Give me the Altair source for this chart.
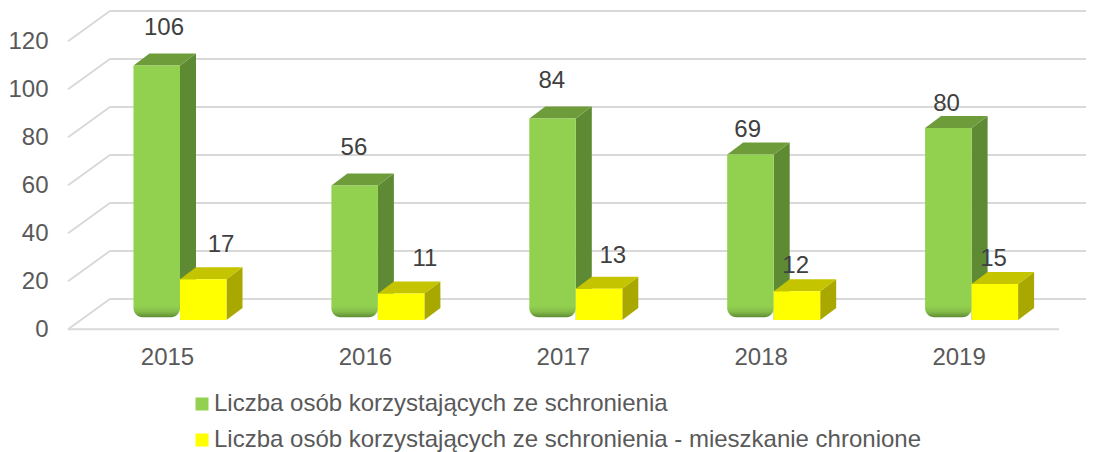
import altair as alt
import pandas as pd

years = [2015, 2016, 2017, 2018, 2019]
series_a = [106, 56, 84, 69, 80]
series_b = [17, 11, 13, 12, 15]
name_a = "Liczba osób korzystających ze schronienia"
name_b = "Liczba osób korzystających ze schronienia - mieszkanie chronione"
grid_values = [0, 20, 40, 60, 80, 100, 120]

# layout constants (pixels, converted through the scale ratios)
PX_PER_YEAR = 197.9
PX_PER_UNIT = 2.4
ux = lambda px: px / PX_PER_YEAR
uy = lambda px: px / PX_PER_UNIT
FONT = "Liberation Sans"
FS = 24
PLOT_L, PLOT_R, PLOT_T, PLOT_B = 56, 1086, 8, 345
ZERO_Y, YEAR0_X = 329.3, 168

# hand-moved data labels: offset from year centre / from front top of the bar
nudge_a = ([-4, -12, -12, -14, -13], [37.6, 37.6, 37.4, 24.4, 24])
nudge_b = ([53, 59, 49, 34, 34], [34, 35, 33, 25, 25])

x_dom = [2015 + ux(PLOT_L - YEAR0_X), 2015 + ux(PLOT_R - YEAR0_X)]
y_dom = [uy(ZERO_Y - PLOT_B), uy(ZERO_Y - PLOT_T)]
xs = alt.Scale(domain=x_dom, nice=False, zero=False)
ys = alt.Scale(domain=y_dom, nice=False, zero=False)
cs = alt.Scale(domain=[name_a, name_b], range=["#92D050", "#FFFF00"])

# depth of floor & bars
FLOOR_DX, FLOOR_DY = ux(42), uy(30.3)
BAR_DX, BAR_DY = ux(16), uy(12)
BASE = uy(ZERO_Y - 320)
BAR_W = ux(46.5)
LEFT_A, LEFT_B = ux(-34.5), ux(12)
LEFT_END = 2015 + ux(68 - YEAR0_X)
RIGHT_END = 2015 + ux(1059 - YEAR0_X)

grid_rows = []
for v in grid_values:
    grid_rows += [
        {"x": LEFT_END, "y": v, "g": v},
        {"x": LEFT_END + FLOOR_DX, "y": v + FLOOR_DY, "g": v},
        {"x": RIGHT_END + FLOOR_DX, "y": v + FLOOR_DY, "g": v},
    ]
grid_df = pd.DataFrame(grid_rows)
floor_df = pd.DataFrame({"x": [LEFT_END, RIGHT_END], "y": [0, 0]})


def faces(values, left):
    side, top, front = [], [], []
    for yr, v in zip(years, values):
        x0 = yr + left
        x1 = x0 + BAR_W
        t = BASE + v
        side += [
            {"x": x1, "y": BASE, "y2": t, "k": yr},
            {"x": x1 + BAR_DX, "y": BASE + BAR_DY, "y2": t + BAR_DY, "k": yr},
        ]
        top += [
            {"x": x0, "y": t, "y2": t, "k": yr},
            {"x": x0 + BAR_DX, "y": t, "y2": t + BAR_DY, "k": yr},
            {"x": x1, "y": t, "y2": t + BAR_DY, "k": yr},
            {"x": x1 + BAR_DX, "y": t + BAR_DY, "y2": t + BAR_DY, "k": yr},
        ]
        front.append({"x": x0, "x2": x1, "y": BASE, "y2": t})
    return pd.DataFrame(side), pd.DataFrame(top), pd.DataFrame(front)


side_a, top_a, front_a = faces(series_a, LEFT_A)
side_b, top_b, front_b = faces(series_b, LEFT_B)
front_a["s"] = name_a
front_b["s"] = name_b

# green bars: flat body above, rounded shaded foot below
FOOT_TOP = BASE + uy(21)
FOOT_BOT = BASE + uy(2.7)
front_a_body = front_a.copy()
front_a_body["y"] = FOOT_TOP
foot = front_a.copy()
foot["y"] = FOOT_BOT
foot["y2"] = FOOT_TOP


def labels(values, nudge):
    return pd.DataFrame({
        "x": [yr + ux(d) for yr, d in zip(years, nudge[0])],
        "y": [BASE + v + uy(d) for v, d in zip(values, nudge[1])],
        "t": [str(v) for v in values],
    })


X = alt.X("x:Q", scale=xs, title=None, axis=alt.Axis(
    values=years, format="d", grid=False, ticks=False, domain=False,
    labelFontSize=FS, labelFont=FONT, labelColor="#595959", labelPadding=0,
    labelOffset=-1, labelFlush=False, labelOverlap=False))
Y = alt.Y("y:Q", scale=ys, title=None, axis=alt.Axis(
    values=grid_values, format="d", grid=False, ticks=False, domain=False,
    labelFontSize=FS, labelFont=FONT, labelColor="#595959", labelPadding=8,
    labelFlush=False, labelOverlap=False))

grid = alt.Chart(grid_df).mark_line(color="#D9D9D9", strokeWidth=2, clip=True).encode(
    x=X, y=Y, detail="g:N", order="x:Q",
)
floor = alt.Chart(floor_df).mark_line(color="#D9D9D9", strokeWidth=2).encode(x=X, y=Y)


def area(df, colour):
    return alt.Chart(df).mark_area(color=colour, orient="vertical").encode(
        x=X, y=Y, y2=alt.Y2("y2:Q"), detail="k:N")


legend = alt.Legend(
    title=None, orient="none", legendX=134, legendY=384, symbolType="square",
    symbolSize=169, symbolStrokeWidth=0, labelFontSize=FS, labelFont=FONT,
    labelColor="#595959", labelLimit=900, labelOffset=0, rowPadding=12, padding=0,
)


def rects(df):
    return alt.Chart(df).mark_rect().encode(
        x=X, x2="x2:Q", y=Y, y2="y2:Q",
        color=alt.Color("s:N", scale=cs, legend=legend),
    )


foot_fill = alt.LinearGradient(
    gradient="linear", x1=0, x2=0, y1=0, y2=1,
    stops=[alt.GradientStop(color="#92D050", offset=0),
           alt.GradientStop(color="#92D050", offset=0.38),
           alt.GradientStop(color="#84BC49", offset=0.7),
           alt.GradientStop(color="#5E8A33", offset=1)],
)
foot_layer = alt.Chart(foot).mark_rect(
    color=foot_fill, cornerRadiusBottomLeft=9, cornerRadiusBottomRight=9
).encode(x=X, x2="x2:Q", y=Y, y2="y2:Q")


def text(df):
    return alt.Chart(df).mark_text(
        font=FONT, fontSize=FS, color="#404040", baseline="middle", align="center"
    ).encode(x=X, y=Y, text="t:N")


chart = alt.layer(
    grid, floor,
    area(side_a, "#5F8A34"), area(top_a, "#6F9C3B"),
    rects(front_a_body), foot_layer,
    area(side_b, "#A8A800"), area(top_b, "#C4C400"),
    rects(front_b),
    text(labels(series_a, nudge_a)), text(labels(series_b, nudge_b)),
).properties(
    width=PLOT_R - PLOT_L,
    height=PLOT_B - PLOT_T,
    background="white",
    autosize=alt.AutoSizeParams(type="none"),
    padding={"left": PLOT_L - 8, "top": PLOT_T - 8, "right": 0, "bottom": 452 - 8 - (PLOT_B - 8) - 0},
).configure_view(stroke=None)

chart.save("out.html", embed_options={"renderer": "svg", "actions": False})
